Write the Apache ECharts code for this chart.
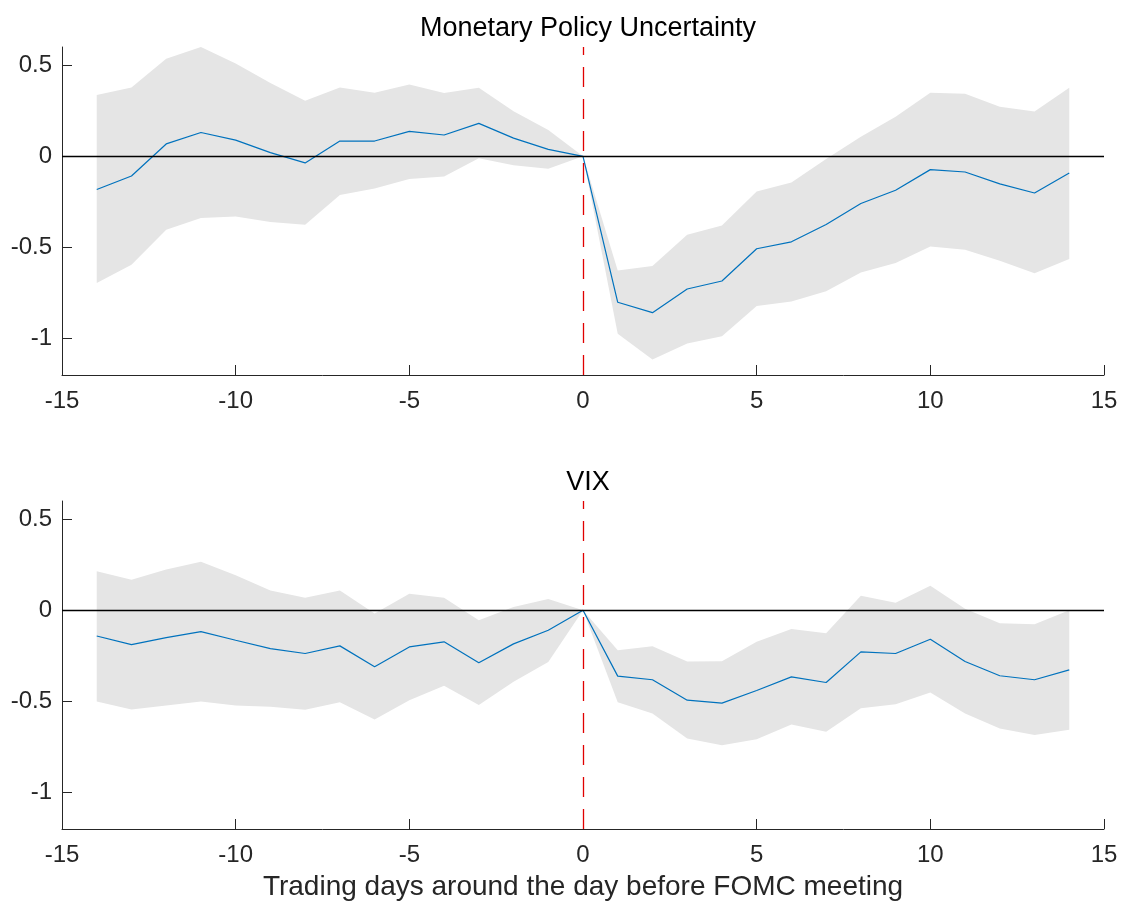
<!DOCTYPE html>
<html>
<head>
<meta charset="utf-8">
<script src="https://cdn.jsdelivr.net/npm/echarts@6/dist/echarts.min.js"></script>
<style>
  html, body { margin: 0; padding: 0; background: #fff; }
  #chart { width: 1122px; height: 905px; }
</style>
</head>
<body>
<div id="chart"></div>
<script>
// trading days around the day before the FOMC meeting
const days = [-14, -13, -12, -11, -10, -9, -8, -7, -6, -5, -4, -3, -2, -1, 0,
  1, 2, 3, 4, 5, 6, 7, 8, 9, 10, 11, 12, 13, 14];

// Monetary Policy Uncertainty
const mpuMean = [-0.182, -0.108, 0.068, 0.131, 0.089, 0.020, -0.036, 0.084, 0.084, 0.137, 0.117, 0.181, 0.100, 0.038, 0,
  -0.801, -0.858, -0.728, -0.684, -0.507, -0.469, -0.374, -0.259, -0.186, -0.073, -0.086, -0.151, -0.201, -0.091];
const mpuUpper = [0.336, 0.378, 0.536, 0.600, 0.509, 0.403, 0.305, 0.378, 0.349, 0.394, 0.347, 0.376, 0.248, 0.144, 0,
  -0.626, -0.602, -0.431, -0.380, -0.193, -0.144, -0.015, 0.108, 0.217, 0.349, 0.343, 0.272, 0.246, 0.376];
const mpuLower = [-0.695, -0.595, -0.403, -0.339, -0.330, -0.361, -0.376, -0.212, -0.177, -0.124, -0.111, -0.011, -0.049, -0.068, 0,
  -0.973, -1.115, -1.027, -0.987, -0.821, -0.796, -0.741, -0.637, -0.586, -0.495, -0.513, -0.573, -0.642, -0.564];

// VIX
const vixMean = [-0.141, -0.188, -0.150, -0.117, -0.164, -0.210, -0.237, -0.195, -0.310, -0.201, -0.173, -0.288, -0.184, -0.109, 0,
  -0.361, -0.381, -0.493, -0.509, -0.440, -0.365, -0.396, -0.228, -0.237, -0.159, -0.281, -0.359, -0.381, -0.327];
const vixUpper = [0.215, 0.168, 0.224, 0.266, 0.192, 0.109, 0.069, 0.109, -0.018, 0.091, 0.069, -0.055, 0.018, 0.062, 0,
  -0.219, -0.197, -0.281, -0.279, -0.173, -0.102, -0.126, 0.080, 0.042, 0.135, 0.009, -0.071, -0.077, 0.000];
const vixLower = [-0.500, -0.544, -0.522, -0.500, -0.522, -0.529, -0.546, -0.504, -0.599, -0.493, -0.414, -0.520, -0.392, -0.283, 0,
  -0.504, -0.566, -0.704, -0.741, -0.708, -0.626, -0.666, -0.538, -0.516, -0.451, -0.566, -0.648, -0.684, -0.655];

const yTicks = [-1, -0.5, 0, 0.5];
const titles = ['Monetary Policy Uncertainty', 'VIX'];
const xLabel = 'Trading days around the day before FOMC meeting';

const FONT = '"Liberation Sans", Arial, sans-serif';
const AXIS_COLOR = '#262626';

function xAxisFor(idx, withName) {
  return {
    type: 'value', gridIndex: idx, min: -15, max: 15, interval: 5,
    name: withName ? xLabel : '',
    nameLocation: 'middle', nameGap: 44,
    nameTextStyle: { fontFamily: FONT, fontSize: 28, color: AXIS_COLOR },
    axisLine: { onZero: false, lineStyle: { color: AXIS_COLOR, width: 1 } },
    axisTick: { inside: true, length: 10, lineStyle: { color: AXIS_COLOR } },
    axisLabel: { fontFamily: FONT, fontSize: 24, color: AXIS_COLOR, margin: 14 },
    splitLine: { show: false }
  };
}

function yAxisFor(idx) {
  return {
    type: 'value', gridIndex: idx, min: -1.2, max: 0.6,
    axisLine: { show: true, onZero: false, lineStyle: { color: AXIS_COLOR, width: 1 } },
    axisTick: { show: true, inside: true, length: 10, customValues: yTicks, lineStyle: { color: AXIS_COLOR } },
    axisLabel: { fontFamily: FONT, fontSize: 24, color: AXIS_COLOR, margin: 10, customValues: yTicks },
    splitLine: { show: false }
  };
}

// grey confidence band drawn as one polygon through the axis scales
function bandSeries(idx, lower, upper) {
  return {
    type: 'custom', xAxisIndex: idx, yAxisIndex: idx, z: 1, silent: true,
    data: days.map((d, i) => [d, lower[i], upper[i]]),
    encode: { x: 0, y: [1, 2] },
    renderItem: function (params, api) {
      if (params.dataIndex !== 0) return;
      const pts = [];
      for (let i = 0; i < days.length; i++) pts.push(api.coord([days[i], upper[i]]));
      for (let i = days.length - 1; i >= 0; i--) pts.push(api.coord([days[i], lower[i]]));
      return { type: 'polygon', shape: { points: pts }, style: { fill: '#e5e5e5' } };
    }
  };
}

function meanSeries(idx, mean) {
  return {
    type: 'line', xAxisIndex: idx, yAxisIndex: idx, z: 3,
    data: days.map((d, i) => [d, mean[i]]),
    showSymbol: false, symbol: 'none',
    lineStyle: { color: '#0072BD', width: 1.2 },
    markLine: {
      silent: true, symbol: 'none', label: { show: false },
      data: [
        { yAxis: 0, lineStyle: { color: '#000', width: 1.3, type: 'solid' } },
        { xAxis: 0, lineStyle: { color: '#e00000', width: 1.3, type: [20, 12] } }
      ]
    }
  };
}

const chart = echarts.init(document.getElementById('chart'));
chart.setOption({
  animation: false,
  backgroundColor: '#fff',
  title: [
    { text: titles[0], left: 583, top: 10, textAlign: 'center',
      textStyle: { fontFamily: FONT, fontSize: 27, fontWeight: 'normal', color: '#000' } },
    { text: titles[1], left: 583, top: 464, textAlign: 'center',
      textStyle: { fontFamily: FONT, fontSize: 27, fontWeight: 'normal', color: '#000' } }
  ],
  grid: [
    { left: 62, right: 18, top: 47, height: 328 },
    { left: 62, right: 18, top: 501, height: 328 }
  ],
  xAxis: [xAxisFor(0, false), xAxisFor(1, true)],
  yAxis: [yAxisFor(0), yAxisFor(1)],
  series: [
    bandSeries(0, mpuLower, mpuUpper),
    meanSeries(0, mpuMean),
    bandSeries(1, vixLower, vixUpper),
    meanSeries(1, vixMean)
  ]
});
</script>
</body>
</html>
